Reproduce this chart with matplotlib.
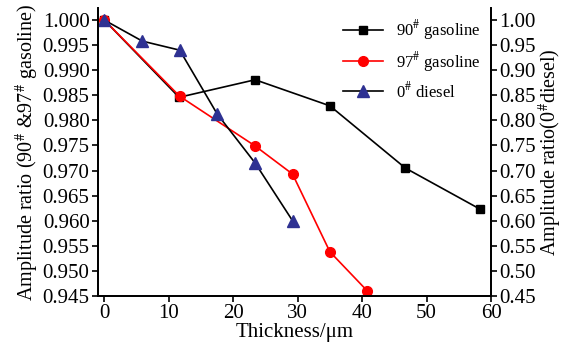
import matplotlib
matplotlib.use("Agg")
import matplotlib.pyplot as plt

plt.rcParams['font.family'] = ['Liberation Serif', 'DejaVu Serif']
plt.rcParams['mathtext.fontset'] = 'stix'

# 90# 汽油
x_90 = [0, 11.6, 23.4, 35.0, 46.7, 58.3]
y_90 = [1.000, 0.9846, 0.9881, 0.9829, 0.9705, 0.9623]
# 97# 汽油
x_97 = [0, 11.7, 23.4, 29.2, 35.0, 40.8]
y_97 = [1.000, 0.9848, 0.9749, 0.9693, 0.9538, 0.9460]
# 0# 柴油 (右轴)
x_0 = [0, 5.9, 11.7, 17.5, 23.4, 29.2]
y_0 = [1.00, 0.958, 0.940, 0.813, 0.715, 0.600]

left_ticks = [0.945 + 0.005 * i for i in range(12)]
right_ticks = [0.45 + 0.05 * i for i in range(12)]

fig = plt.figure(figsize=(5.69, 3.49), dpi=100, facecolor='white')
ax = fig.add_axes([0.172, 0.152, 0.691, 0.825])
ax2 = ax.twinx()

l1, = ax.plot(x_90, y_90, color='black', marker='s', ms=6, lw=1.2,
              label='90$^{\\#}$ gasoline')
l2, = ax.plot(x_97, y_97, color='red', marker='o', ms=7, lw=1.2,
              label='97$^{\\#}$ gasoline')
l3, = ax2.plot(x_0, y_0, color='black', marker='^', ms=8, lw=1.2,
               mfc='#2e3192', mec='#2e3192', label='0$^{\\#}$ diesel')

ax.set_xlim(-1, 60)
ax.set_ylim(0.945, 1.0024)
ax2.set_ylim(0.45, 1.024)
ax.set_xticks([0, 10, 20, 30, 40, 50, 60])
ax.set_yticks(left_ticks)
ax.set_yticklabels(['%.3f' % v for v in left_ticks])
ax2.set_yticks(right_ticks)
ax2.set_yticklabels(['%.2f' % v for v in right_ticks])

for a in (ax, ax2):
    a.spines['top'].set_visible(False)
    a.tick_params(direction='out', length=4, width=1.2, labelsize=15, pad=2)
    for s in a.spines.values():
        s.set_linewidth(1.3)

ax.set_xlabel('Thickness/μm', fontsize=15, labelpad=0)
ax.set_ylabel('Amplitude ratio (90$^{\\#}$ &97$^{\\#}$ gasoline)', fontsize=14.5, labelpad=1)
ax2.set_ylabel('Amplitude ratio(0$^{\\#}$diesel)', fontsize=14.5, labelpad=1)

ax.legend(handles=[l1, l2, l3], loc='upper right', frameon=False, fontsize=12,
          handlelength=2.4, borderaxespad=0.2, labelspacing=0.45)

fig.savefig('out.png', dpi=100)
